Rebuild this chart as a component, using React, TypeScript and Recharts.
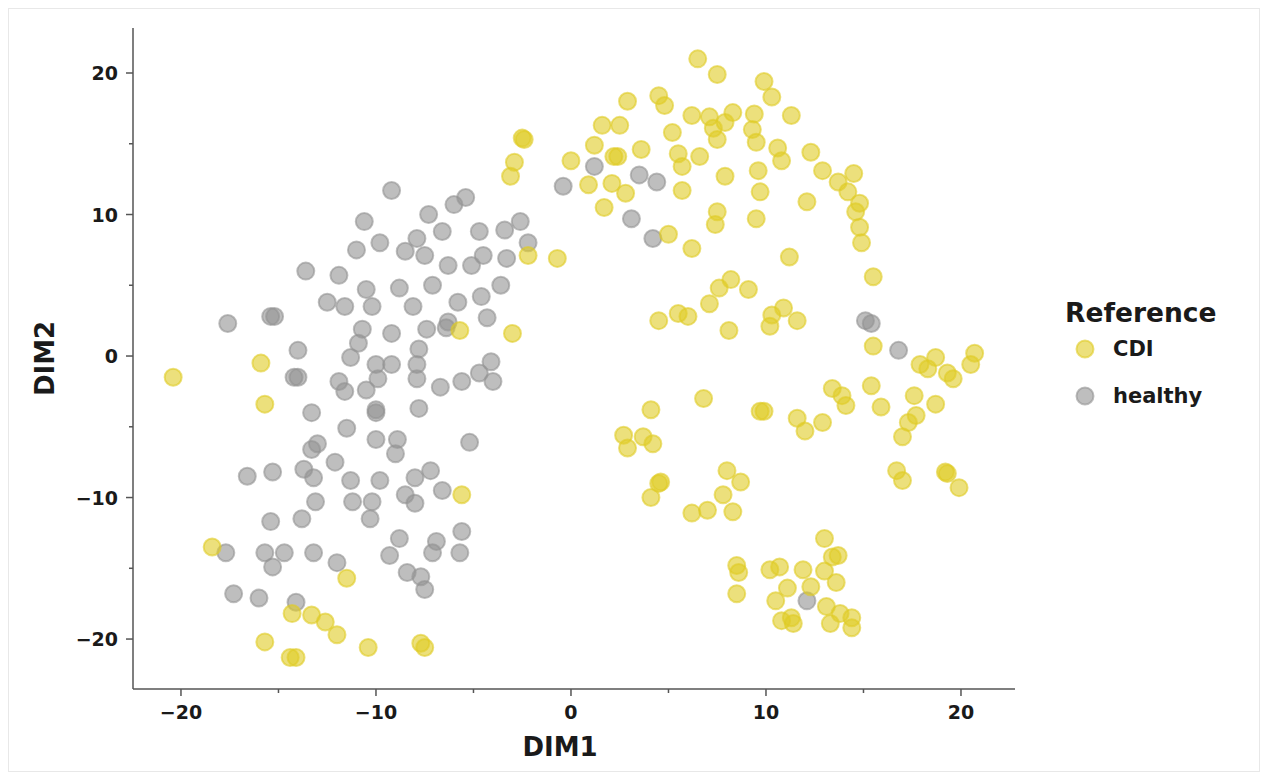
import { ScatterChart, Scatter, XAxis, YAxis } from "recharts";

const CDI_POINTS: [number, number][] = [
  [-20.4, -1.5], [-15.9, -0.5], [-15.7, -3.4], [-5.7, 1.8], [-3.0, 1.6], [-2.2, 7.1], [-0.7, 6.9],
  [-3.1, 12.7], [-2.9, 13.7], [-2.5, 15.4], [-2.4, 15.3], [-18.4, -13.5], [-11.5, -15.7], [-5.6, -9.8],
  [-14.3, -18.2], [-13.3, -18.3], [-12.6, -18.8], [-12.0, -19.7], [-15.7, -20.2], [-14.4, -21.3],
  [-14.1, -21.3], [-10.4, -20.6], [-7.7, -20.3], [-7.5, -20.6],
  [6.5, 21.0], [7.5, 19.9], [9.9, 19.4], [10.3, 18.3], [2.9, 18.0], [4.5, 18.4], [4.8, 17.7],
  [6.2, 17.0], [7.1, 16.9], [7.3, 16.1], [7.5, 15.3], [8.3, 17.2], [7.9, 16.5], [9.4, 17.1],
  [9.3, 16.0], [9.5, 15.1], [1.6, 16.3], [2.5, 16.3], [5.2, 15.8], [1.2, 14.9], [2.2, 14.1],
  [2.4, 14.1], [3.6, 14.6], [0.0, 13.8], [5.5, 14.3], [5.7, 13.4], [6.6, 14.1], [7.9, 12.7],
  [9.6, 13.1], [9.7, 11.6], [0.9, 12.1], [2.1, 12.2], [2.8, 11.5], [5.7, 11.7], [1.7, 10.5],
  [7.5, 10.2], [7.4, 9.3], [9.5, 9.7], [5.0, 8.6], [6.2, 7.6], [11.3, 17.0], [10.6, 14.7],
  [10.8, 13.8], [12.3, 14.4], [12.9, 13.1], [13.7, 12.3], [14.5, 12.9], [14.2, 11.6], [14.8, 10.8],
  [14.6, 10.2], [14.8, 9.1], [14.9, 8.0], [12.1, 10.9], [11.2, 7.0], [15.5, 5.6],
  [8.2, 5.4], [7.6, 4.8], [9.1, 4.7], [7.1, 3.7], [4.5, 2.5], [5.5, 3.0], [6.0, 2.8], [8.1, 1.8],
  [10.3, 2.9], [10.9, 3.4], [10.2, 2.1], [11.6, 2.5], [6.8, -3.0], [4.1, -3.8], [9.7, -3.9],
  [9.9, -3.9], [11.6, -4.4], [12.0, -5.3], [12.9, -4.7], [13.4, -2.3], [13.9, -2.8], [14.1, -3.5],
  [2.7, -5.6], [2.9, -6.5], [3.7, -5.7], [4.2, -6.2], [4.5, -9.0], [4.6, -8.9], [4.1, -10.0],
  [8.0, -8.1], [8.7, -8.9], [7.8, -9.8], [8.3, -11.0], [6.2, -11.1], [7.0, -10.9],
  [15.5, 0.7], [15.4, -2.1], [15.9, -3.6], [17.9, -0.6], [18.3, -0.9], [18.7, -0.1], [19.3, -1.2],
  [19.6, -1.6], [20.7, 0.2], [20.5, -0.6], [17.6, -2.8], [18.7, -3.4], [17.7, -4.2], [17.3, -4.7],
  [17.0, -5.7], [16.7, -8.1], [17.0, -8.8], [19.2, -8.2], [19.3, -8.3], [19.9, -9.3],
  [13.0, -12.9], [13.4, -14.2], [13.7, -14.1], [13.0, -15.2], [13.6, -16.0], [8.5, -14.8],
  [8.6, -15.3], [8.5, -16.8], [10.2, -15.1], [10.7, -14.9], [11.9, -15.1], [11.1, -16.4],
  [12.3, -16.3], [10.5, -17.3], [10.8, -18.7], [11.3, -18.5], [11.4, -18.9], [13.1, -17.7],
  [13.3, -18.9], [13.8, -18.2], [14.4, -18.5], [14.4, -19.2],
];

const HEALTHY_POINTS: [number, number][] = [
  [-9.2, 11.7], [-10.6, 9.5], [-7.9, 8.3], [-9.8, 8.0], [-8.5, 7.4], [-7.5, 7.1], [-11.0, 7.5],
  [-7.3, 10.0], [-6.6, 8.8], [-6.0, 10.7], [-5.4, 11.2], [-4.7, 8.8], [-3.4, 8.9], [-2.6, 9.5],
  [-2.2, 8.0], [-3.3, 6.9], [-4.5, 7.1], [-5.1, 6.4], [-6.3, 6.4], [-7.1, 5.0], [-5.8, 3.8],
  [-4.6, 4.2], [-3.6, 5.0], [-4.3, 2.7], [-6.3, 2.4], [-6.4, 2.0], [-7.4, 1.9], [-8.1, 3.5],
  [-8.8, 4.8], [-10.2, 3.5], [-10.5, 4.7], [-11.6, 3.5], [-12.5, 3.8], [-11.9, 5.7], [-13.6, 6.0],
  [-10.7, 1.9], [-10.9, 0.9], [-9.2, 1.6], [-7.8, 0.5], [-11.3, -0.1], [-10.0, -0.6], [-9.2, -0.6],
  [-9.9, -1.6], [-10.5, -2.4], [-11.9, -1.8], [-11.6, -2.5], [-7.9, -0.6], [-7.9, -1.6],
  [-5.6, -1.8], [-4.7, -1.2], [-4.1, -0.4], [-4.0, -1.8], [-17.6, 2.3], [-15.4, 2.8], [-15.2, 2.8],
  [-14.0, 0.4], [-14.2, -1.5], [-14.0, -1.5], [-13.3, -4.0], [-11.5, -5.1], [-10.0, -3.8],
  [-10.0, -4.0], [-10.0, -5.9], [-8.9, -5.9], [-9.0, -6.9], [-7.8, -3.7], [-5.2, -6.1],
  [-13.0, -6.2], [-13.3, -6.6], [-12.1, -7.5], [-13.7, -8.0], [-13.2, -8.6], [-16.6, -8.5],
  [-15.3, -8.2], [-11.3, -8.8], [-9.8, -8.8], [-8.0, -8.6], [-7.2, -8.1], [-8.5, -9.8],
  [-8.0, -10.4], [-6.6, -9.5], [-11.2, -10.3], [-10.2, -10.3], [-10.3, -11.5], [-13.1, -10.3],
  [-15.4, -11.7], [-13.8, -11.5], [-8.8, -12.9], [-6.9, -13.1], [-7.1, -13.9], [-5.6, -12.4],
  [-5.7, -13.9], [-17.7, -13.9], [-15.7, -13.9], [-14.7, -13.9], [-15.3, -14.9], [-13.2, -13.9],
  [-12.0, -14.6], [-9.3, -14.1], [-8.4, -15.3], [-7.7, -15.6], [-7.5, -16.5], [-17.3, -16.8],
  [-16.0, -17.1], [-14.1, -17.4], [-6.7, -2.2], [-0.4, 12.0], [1.2, 13.4], [3.5, 12.8],
  [4.4, 12.3], [3.1, 9.7], [4.2, 8.3], [15.1, 2.5], [15.4, 2.3], [16.8, 0.4], [12.1, -17.3],
];

const TICKS = [-20, -15, -10, -5, 0, 5, 10, 15, 20];
const X_DOMAIN: [number, number] = [-22.46, 22.77];
const Y_DOMAIN: [number, number] = [-23.53, 23.18];
const GROUPS = ["CDI", "healthy"];

const CDI_COLOR = "#dfcb24";
const HEALTHY_COLOR = "#939393";
const AXIS = "#555555";
const TEXT = "#1a1a1a";
const FONT = "'DejaVu Sans', sans-serif";

const toRows = (pts: [number, number][]) => pts.map(([x, y]) => ({ x, y }));
const fmt = (v: number) => (v < 0 ? "\u2212" + Math.abs(v) : String(v));

function dot(color: string) {
  return (p: any) => (
    <circle
      cx={p.cx}
      cy={p.cy}
      r={8.5}
      fill={color}
      fillOpacity={0.6}
      stroke={color}
      strokeOpacity={0.6}
      strokeWidth={2}
    />
  );
}

function XTick({ x, y, payload }: any) {
  const major = payload.value % 10 === 0;
  return (
    <g>
      <line x1={x} x2={x} y1={y} y2={y + (major ? 7 : 4)} stroke={AXIS} strokeWidth={1.5} />
      {major && (
        <text x={x} y={y + 23} textAnchor="middle" dominantBaseline="central"
          fontFamily={FONT} fontWeight="bold" fontSize={19} fill={TEXT}>
          {fmt(payload.value)}
        </text>
      )}
    </g>
  );
}

function YTick({ x, y, payload }: any) {
  const major = payload.value % 10 === 0;
  return (
    <g>
      <line x1={x} x2={x - (major ? 7 : 4)} y1={y} y2={y} stroke={AXIS} strokeWidth={1.5} />
      {major && (
        <text x={x - 15} y={y} textAnchor="end" dominantBaseline="central"
          fontFamily={FONT} fontWeight="bold" fontSize={19} fill={TEXT}>
          {fmt(payload.value)}
        </text>
      )}
    </g>
  );
}

function LegendBox() {
  const colors = [CDI_COLOR, HEALTHY_COLOR];
  return (
    <div style={{ position: "absolute", left: 1050, top: 280, width: 200, height: 140, fontFamily: FONT, color: TEXT }}>
      <div style={{ position: "absolute", left: 6, top: 8, fontSize: 26.5, fontWeight: "bold", lineHeight: "32px" }}>
        Reference
      </div>
      {GROUPS.map((g, i) => (
        <div key={g}>
          <svg style={{ position: "absolute", left: 14, top: 48 + i * 47 }} width={24} height={24}>
            <circle cx={12} cy={12} r={8.5} fill={colors[i]} fillOpacity={0.6}
              stroke={colors[i]} strokeOpacity={0.6} strokeWidth={2} />
          </svg>
          <div style={{ position: "absolute", left: 54, top: 47 + i * 47, fontSize: 21, fontWeight: "bold", lineHeight: "26px" }}>
            {g}
          </div>
        </div>
      ))}
    </div>
  );
}

export default function App() {
  return (
    <div style={{ position: "relative", width: 1250, height: 762, border: "1px solid #e8e8e8", background: "#fff" }}>
      <ScatterChart width={1250} height={762} margin={{ top: 19, right: 244, bottom: 0, left: 0 }}>
        <XAxis
          type="number"
          dataKey="x"
          domain={X_DOMAIN}
          ticks={TICKS}
          interval={0}
          allowDataOverflow
          height={82}
          tickSize={0}
          tickMargin={0}
          tickLine={false}
          axisLine={{ stroke: AXIS, strokeWidth: 1.5 }}
          tick={<XTick />}
          label={{
            content: (p: any) => (
              <text x={p.viewBox.x + p.viewBox.width / 2 - 14} y={p.viewBox.y + 58} textAnchor="middle"
                dominantBaseline="central" fontFamily={FONT} fontWeight="bold" fontSize={26} fill={TEXT}>
                DIM1
              </text>
            ),
          }}
        />
        <YAxis
          type="number"
          dataKey="y"
          domain={Y_DOMAIN}
          ticks={TICKS}
          interval={0}
          allowDataOverflow
          width={124}
          tickSize={0}
          tickMargin={0}
          tickLine={false}
          axisLine={{ stroke: AXIS, strokeWidth: 1.5 }}
          tick={<YTick />}
          label={{
            content: (p: any) => {
              const cx = 36;
              const cy = p.viewBox.y + p.viewBox.height / 2;
              return (
                <text x={cx} y={cy} transform={`rotate(-90, ${cx}, ${cy})`} textAnchor="middle"
                  dominantBaseline="central" fontFamily={FONT} fontWeight="bold" fontSize={26} fill={TEXT}>
                  DIM2
                </text>
              );
            },
          }}
        />
        <Scatter name="healthy" data={toRows(HEALTHY_POINTS)} shape={dot(HEALTHY_COLOR)} isAnimationActive={false} />
        <Scatter name="CDI" data={toRows(CDI_POINTS)} shape={dot(CDI_COLOR)} isAnimationActive={false} />
      </ScatterChart>
      <LegendBox />
    </div>
  );
}
